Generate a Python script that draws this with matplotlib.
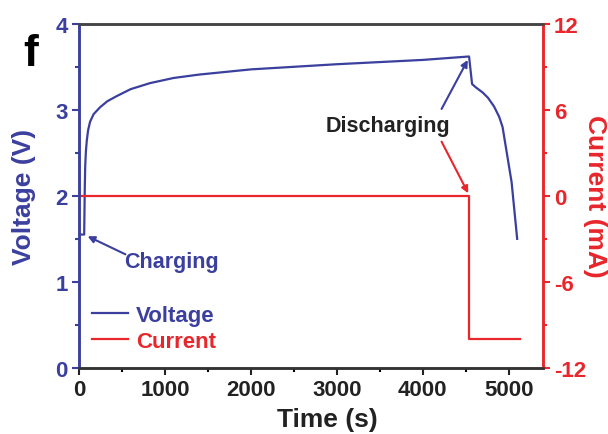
import matplotlib

matplotlib.use("Agg")
import matplotlib.pyplot as plt  # noqa: E402
from matplotlib.ticker import MultipleLocator  # noqa: E402

plt.rcParams["font.family"] = ["Liberation Sans", "DejaVu Sans"]
plt.rcParams["font.weight"] = "bold"
plt.rcParams["axes.unicode_minus"] = False

BLUE = "#3b3f9e"
RED = "#e8262b"

# voltage trace (s, V)
volt_t = [0, 60, 63, 67, 72, 80, 90, 105, 128, 170, 245, 330, 440, 600, 825, 1100, 1400,
          2000, 2500, 3000, 3500, 4000, 4540,
          4575, 4620, 4700, 4760, 4830, 4890, 4930, 5035, 5100]
volt_v = [1.55, 1.55, 1.8, 2.1, 2.35, 2.52, 2.64, 2.76, 2.86, 2.95, 3.03, 3.10, 3.16, 3.24, 3.31, 3.37, 3.41,
          3.47, 3.50, 3.53, 3.555, 3.58, 3.62,
          3.30, 3.26, 3.20, 3.14, 3.04, 2.92, 2.80, 2.16, 1.50]

# current trace (s, mA)
curr_t = [0, 4540, 4540, 5130]
curr_i = [0, 0, -10, -10]

fig, ax = plt.subplots(figsize=(6.08, 4.35), dpi=100)
fig.subplots_adjust(left=0.130, right=0.893, bottom=0.152, top=0.943)
ax2 = ax.twinx()

lv, = ax.plot(volt_t, volt_v, color=BLUE, lw=1.6, label="Voltage")
lc, = ax2.plot(curr_t, curr_i, color=RED, lw=1.6, label="Current")

ax.set_xlim(0, 5400)
ax.set_ylim(0, 4)
ax2.set_ylim(-12, 12)
ax.xaxis.set_major_locator(MultipleLocator(1000))
ax.xaxis.set_minor_locator(MultipleLocator(500))
ax.yaxis.set_major_locator(MultipleLocator(1))
ax.yaxis.set_minor_locator(MultipleLocator(0.5))
ax2.yaxis.set_major_locator(MultipleLocator(6))
ax2.yaxis.set_minor_locator(MultipleLocator(3))

for a in (ax, ax2):
    for s in a.spines.values():
        s.set_linewidth(1.8)
    a.spines["top"].set_color("#444444")
    a.spines["bottom"].set_color("#333333")
    a.spines["left"].set_color(BLUE)
    a.spines["right"].set_color(RED)

ax.tick_params(axis="y", colors=BLUE, labelsize=16, width=1.5, length=5, pad=3)
ax.tick_params(axis="y", which="minor", colors=BLUE, width=1.5, length=3)
ax.tick_params(axis="x", colors="#222222", labelsize=16, width=1.5, length=5, pad=3)
ax.tick_params(axis="x", which="minor", width=1.5, length=3)
ax2.tick_params(axis="y", colors=RED, labelsize=16, width=1.5, length=5, pad=3)
ax2.tick_params(axis="y", which="minor", colors=RED, width=1.5, length=3)

ax.set_xlabel("Time (s)", fontsize=19, fontweight="bold", color="#222222")
ax.set_ylabel("Voltage (V)", fontsize=19, fontweight="bold", color=BLUE)
ax2.set_ylabel("Current (mA)", fontsize=19, fontweight="bold", color=RED, rotation=270)
ax.xaxis.set_label_coords(0.535, -0.148)
ax.yaxis.set_label_coords(-0.118, 0.5)
ax2.yaxis.set_label_coords(1.113, 0.5)
ax2.yaxis.label.set_va("center")
ax.yaxis.label.set_va("center")
ax.xaxis.label.set_va("center")

ax.text(1070, 1.24, "Charging", fontsize=15.5, fontweight="bold", color=BLUE,
        ha="center", va="center")
ax.annotate("", xy=(100, 1.53), xytext=(540, 1.32),
            arrowprops=dict(arrowstyle="-|>", color=BLUE, lw=1.5, shrinkA=0, shrinkB=0))
ax.text(3600, 2.82, "Discharging", fontsize=15.5, fontweight="bold", color="#222222",
        ha="center", va="center")
ax.annotate("", xy=(4525, 3.58), xytext=(4220, 3.01),
            arrowprops=dict(arrowstyle="-|>", color=BLUE, lw=1.5, shrinkA=0, shrinkB=0))
ax.annotate("", xy=(4530, 2.03), xytext=(4220, 2.63),
            arrowprops=dict(arrowstyle="-|>", color=RED, lw=1.5, shrinkA=0, shrinkB=0))

leg = ax.legend([lv, lc], ["Voltage", "Current"], loc="upper left",
                bbox_to_anchor=(0.009, 0.209), frameon=False, fontsize=16,
                handlelength=1.6, handletextpad=0.36, labelspacing=0.22,
                borderpad=0.4, borderaxespad=0.0)
for txt, col in zip(leg.get_texts(), (BLUE, RED)):
    txt.set_color(col)

fig.text(0.05, 0.875, "f", fontsize=32, fontweight="bold", ha="center", va="center")

fig.savefig("out.png", dpi=100)
